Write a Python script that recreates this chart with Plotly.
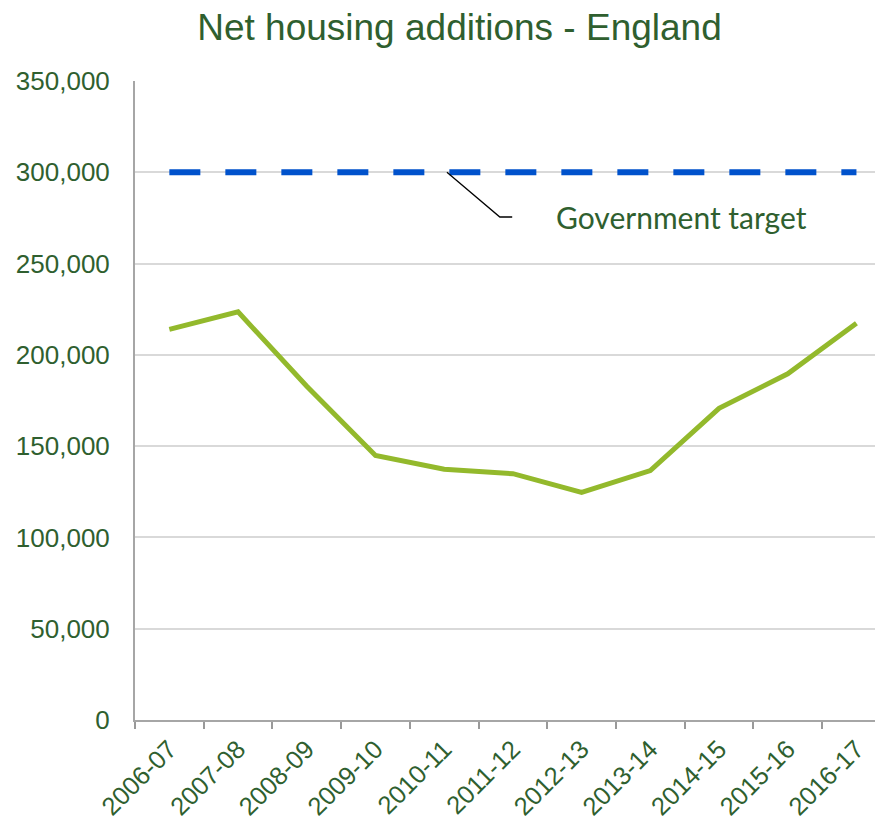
import plotly.graph_objects as go

years = ["2006-07", "2007-08", "2008-09", "2009-10", "2010-11", "2011-12",
         "2012-13", "2013-14", "2014-15", "2015-16", "2016-17"]
net_additions = [214000, 223530, 182770, 144870, 137390, 134900,
                 124720, 136610, 170690, 189650, 217350]
target = [300000] * len(years)
y_ticks = [0, 50000, 100000, 150000, 200000, 250000, 300000, 350000]
y_labels = ["0", "50,000", "100,000", "150,000", "200,000", "250,000",
            "300,000", "350,000"]

GREEN_TXT = "#2F5F2F"
LINE_GREEN = "#93B92C"
BLUE = "#0052CC"
ARIAL = "Liberation Sans"

fig = go.Figure()
fig.add_trace(go.Scatter(x=years, y=target, mode="lines",
                         line=dict(color=BLUE, width=6, dash="31px,25px"),
                         hoverinfo="skip", showlegend=False))
fig.add_trace(go.Scatter(x=years, y=net_additions, mode="lines",
                         line=dict(color=LINE_GREEN, width=5),
                         showlegend=False))

# leader line for the annotation (in category-index units)
fig.add_shape(type="path", xref="x", yref="y",
              path="M 4.04,300000 L 4.81,275500 L 4.99,275500",
              line=dict(color="black", width=1.3))
fig.add_annotation(x=5.6, y=275500, xref="x", yref="y", text="Government target",
                   showarrow=False, xanchor="left", yanchor="middle",
                   font=dict(family="Lato", size=30, color=GREEN_TXT))

fig.update_layout(
    width=875, height=823,
    margin=dict(l=135, r=0, t=81, b=103, autoexpand=False),
    paper_bgcolor="white", plot_bgcolor="white",
    title=dict(text="Net housing additions - England", x=459.5 / 875, xref="container",
               xanchor="center", y=1 - 27 / 823, yref="container", yanchor="middle",
               font=dict(family=ARIAL, size=37, color=GREEN_TXT)),
    font=dict(family=ARIAL, color=GREEN_TXT),
)
fig.update_xaxes(type="category", range=[-0.5, 10.27], tickson="boundaries",
                 ticks="outside", ticklen=7, tickcolor="#999999", tickwidth=2,
                 showline=True, linecolor="#A6A6A6", linewidth=2,
                 showgrid=False, tickangle=-45, ticklabelstandoff=2,
                 automargin=False,
                 tickfont=dict(family=ARIAL, size=25.5, color=GREEN_TXT), fixedrange=True)
fig.update_yaxes(range=[0, 350000], tickvals=y_ticks, ticktext=y_labels,
                 showline=True, linecolor="#A6A6A6", linewidth=2,
                 showgrid=True, gridcolor="#D9D9D9", gridwidth=1.5,
                 ticks="", ticklabelstandoff=18, zeroline=False, automargin=False,
                 tickfont=dict(family=ARIAL, size=26, color=GREEN_TXT), fixedrange=True)

fig.write_html("out.html")
